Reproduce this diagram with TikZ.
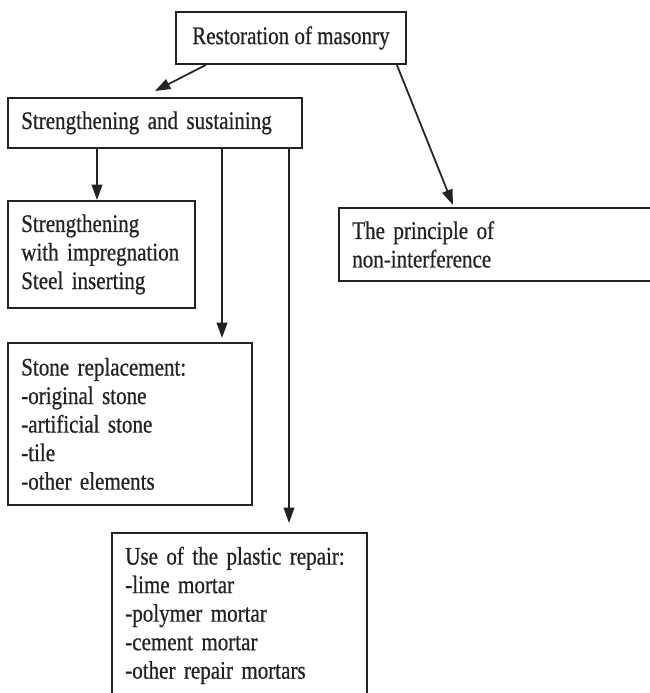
\documentclass[tikz,border=0pt]{standalone}
\usepackage{fontspec}
\setmainfont{Liberation Serif}[FakeStretch=0.83,FakeBold=0.6]
\usetikzlibrary{arrows.meta,calc}
\definecolor{ink}{HTML}{222222}
\begin{document}
\begin{tikzpicture}[x=0.75pt,y=-0.75pt,
  box/.style={draw=ink, line width=1.4pt, text=ink, anchor=north west,
    inner xsep=10pt, inner ysep=0pt, align=left,
    font=\fontsize{19pt}{21.4pt}\selectfont},
  arr/.style={draw=ink, line width=1.3pt, -{Triangle[length=11.5pt,width=8pt]}}]
\clip (0,0) rectangle (650,693);
\fill[white] (0,0) rectangle (650,693);
\node[box, align=center, inner xsep=0pt, minimum width=172.5pt, minimum height=39pt] (top) at (175,11) {Restoration of masonry};
\node[box, text width=200.5pt, minimum height=37.5pt] (ss) at (7,97) {Strengthening and sustaining};
\node[box, text width=120.25pt, minimum height=80.25pt] (imp) at (7,200) {Strengthening\\with impregnation\\Steel inserting};
\node[box, text width=163pt, minimum height=121.5pt] (stone) at (7,342) {Stone replacement:\\-original stone\\-artificial stone\\-tile\\-other elements};
\node[box, text width=171.25pt, minimum height=123.75pt] (plastic) at (111,532) {Use of the plastic repair:\\-lime mortar\\-polymer mortar\\-cement mortar\\-other repair mortars};
\node[box, text width=215.5pt, minimum height=54.75pt] (princ) at (338,207) {The principle of\\non-interference};
\draw[arr] ($(top.south west)+(31,0)$) -- ($(ss.north west)+(148,-6)$);
\draw[arr] ($(top.south east)+(-10,0)$) -- ($(princ.north west)+(115,-2)$);
\draw[arr] ($(ss.south west)+(90,0)$) -- ($(imp.north west)+(90,0)$);
\draw[arr] ($(ss.south west)+(215,0)$) -- ($(stone.north west)+(215,-4)$);
\draw[arr] ($(ss.south west)+(282,0)$) -- ($(plastic.north west)+(178,-9)$);
\end{tikzpicture}
\end{document}
